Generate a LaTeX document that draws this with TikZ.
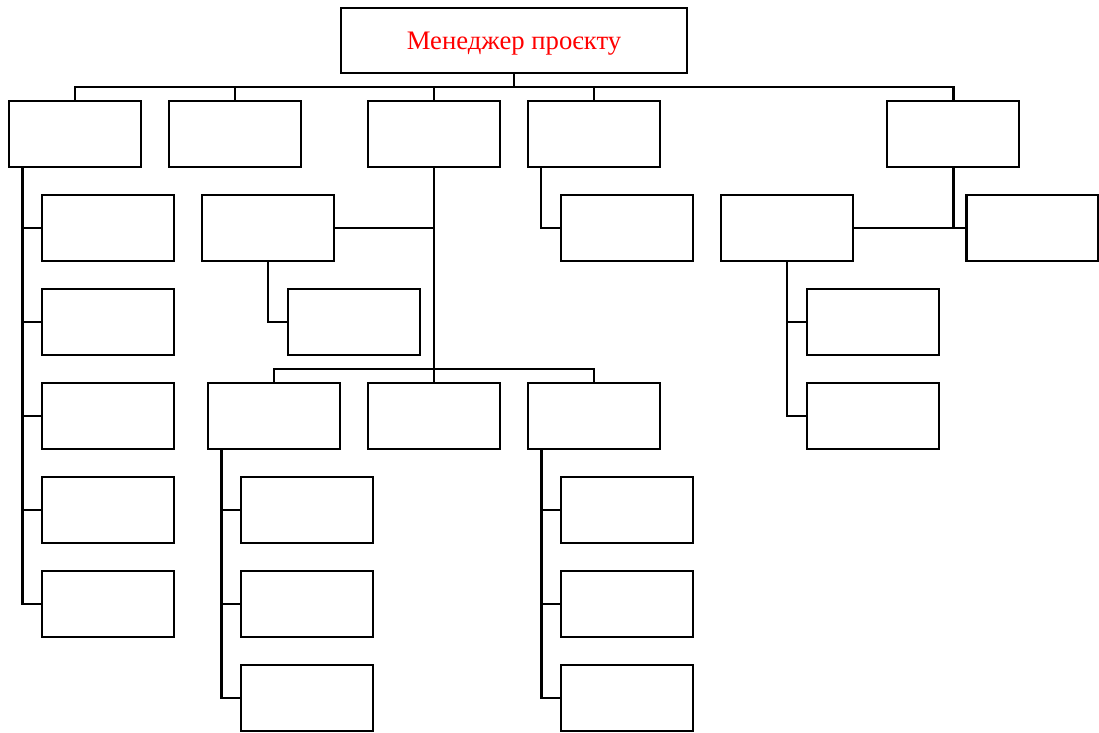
\documentclass[tikz,border=0pt]{standalone}
\usepackage{fontspec}
\setmainfont{Liberation Serif}
\usetikzlibrary{calc}
\tikzset{
    unit/.style={draw, line width=1.35pt, rectangle, inner sep=0pt, outer sep=0pt,
        minimum width=2.64cm, minimum height=1.32cm},
    trunk/.style={line width=1.7pt},
    link/.style={line width=1.2pt}
}

\begin{document}
\begin{tikzpicture}[x=0.02cm, y=-0.02cm]
    \useasboundingbox (0,0) rectangle (1099,733);
    % top
    \node[unit, minimum width=6.92cm, minimum height=1.3cm, text=red, text depth=0pt,
        font=\fontsize{15.2}{18}\selectfont] (pm) at (514,40.5) {Менеджер проєкту};
    % first row
    \node[unit] (A) at (75,134) {};
    \node[unit] (B) at (235,134) {};
    \node[unit] (C) at (434,134) {};
    \node[unit] (D) at (594,134) {};
    \node[unit] (E) at (953,134) {};
    \coordinate (bus) at (514,87);
    \draw[trunk] (pm) -- (bus);
    \draw[trunk] (A.north) |- (bus) -| (E.north);
    \foreach \n in {B,C,D} \draw[link] (\n.north) -- (\n.north |- bus);
    % under A
    \foreach \i/\y in {1/228, 2/322, 3/416, 4/510, 5/604}
        \node[unit] (a\i) at (108,\y) {};
    \coordinate (atr) at ($(A.south west)+(13,0)$);
    \draw[trunk, line join=miter] (atr) |- (a5.west);
    \foreach \i in {1,...,4} \draw[link] (atr |- a\i.west) -- (a\i.west);
    % under C
    \node[unit] (cl) at (268,228) {};
    \node[unit] (cl1) at (354,322) {};
    \draw[link] (cl.east) -- (cl.east -| C.south);
    \draw[link] (cl.south) |- (cl1.west);
    \node[unit] (c1) at (274,416) {};
    \node[unit] (c2) at (434,416) {};
    \node[unit] (c3) at (594,416) {};
    \coordinate (cbus) at (434,369);
    \draw[trunk] (C.south) -- (cbus);
    \draw[link] (c1.north) |- (cbus) -| (c3.north);
    \draw[link] (c2.north) -- (c2.north |- cbus);
    \foreach \k/\x in {1/307, 3/627} {
        \foreach \i/\y in {1/510, 2/604, 3/698}
            \node[unit] (c\k\i) at (\x,\y) {};
        \coordinate (ctr\k) at ($(c\k.south west)+(13,0)$);
        \draw[trunk] (ctr\k) |- (c\k3.west);
        \foreach \i in {1,2} \draw[link] (ctr\k |- c\k\i.west) -- (c\k\i.west);
    }
    % under D
    \node[unit] (d1) at (627,228) {};
    \coordinate (dtr) at ($(D.south west)+(13,0)$);
    \draw[link] (dtr) |- (d1.west);
    % under E
    \node[unit] (el) at (787,228) {};
    \node[unit] (er) at (1032.5,228) {};
    \draw[trunk] (E.south) -- (E.south |- er.west);
    \draw[link] (el.east) -- (er.west);
    \node[unit] (el1) at (873,322) {};
    \node[unit] (el2) at (873,416) {};
    \draw[link] (el.south) |- (el2.west);
    \draw[link] (el.south |- el1.west) -- (el1.west);
\end{tikzpicture}
\end{document}
